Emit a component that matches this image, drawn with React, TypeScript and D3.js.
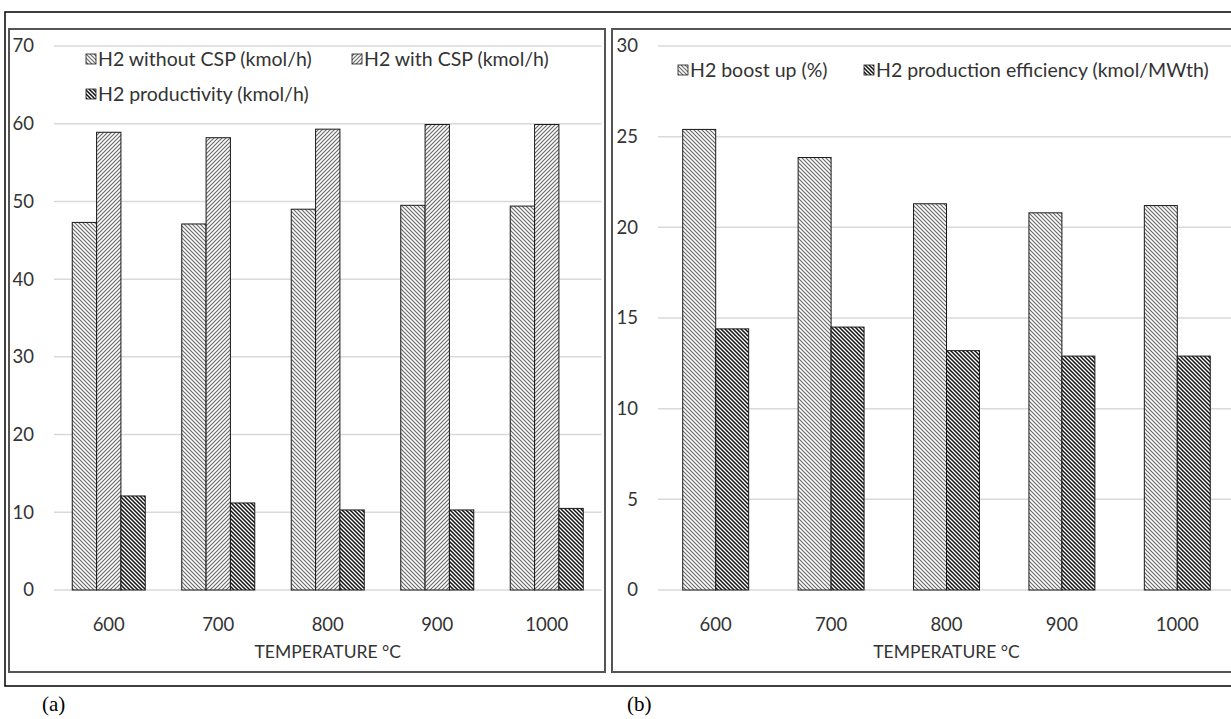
import * as d3 from "d3";

const temps = ["600", "700", "800", "900", "1000"];

// panel (a)
const h2Without = [47.3, 47.1, 49.0, 49.5, 49.4];
const h2With = [58.9, 58.2, 59.3, 59.9, 59.9];
const h2Productivity = [12.1, 11.2, 10.3, 10.3, 10.5];
const ticksA = [0, 10, 20, 30, 40, 50, 60, 70];

// panel (b)
const h2Boost = [25.4, 23.85, 21.3, 20.8, 21.2];
const h2Efficiency = [14.4, 14.5, 13.2, 12.9, 12.9];
const ticksB = [0, 5, 10, 15, 20, 25, 30];

const FONT = "Lato, 'Open Sans', sans-serif";
const TXT = "#333";

type Series = { name: string; values: number[]; fill: string };

function Panel({ x0, x1, yMax, ticks, series, gap, labelRight, legend }: {
  x0: number; x1: number; yMax: number; ticks: number[]; series: Series[];
  gap: number; labelRight: number;
  legend: { x: number; y: number; s: Series }[];
}) {
  const y = d3.scaleLinear().domain([0, yMax]).range([590, 46]);
  const x = d3.scaleBand().domain(temps).range([x0, x1])
    .paddingInner(gap).paddingOuter(gap / 2);
  const inner = d3.scaleBand().domain(series.map(s => s.name)).range([0, x.bandwidth()]);
  const mid = (x0 + x1) / 2;
  return (
    <g>
      {ticks.map(t => (
        <g key={t}>
          <line x1={x0} x2={x1} y1={y(t)} y2={y(t)} stroke="#d9d9d9" strokeWidth={1.5} />
          <text x={labelRight} y={y(t)} dy="0.35em" textAnchor="end" fontSize={18.5} fill={TXT}>{t}</text>
        </g>
      ))}
      {series.map(s => (
        <g key={s.name}>
          {s.values.map((v, i) => (
            <rect key={i} x={x(temps[i])! + inner(s.name)!} y={y(v)} width={inner.bandwidth()}
              height={y(0) - y(v)} fill={s.fill} stroke="#1a1a1a" strokeWidth={1} />
          ))}
        </g>
      ))}
      {temps.map(t => (
        <text key={t} x={x(t)! + x.bandwidth() / 2} y={625} dy="0.35em" textAnchor="middle" fontSize={18.5} fill={TXT}>{t}</text>
      ))}
      <text x={mid} y={652} dy="0.35em" textAnchor="middle" fontSize={17.5} fill={TXT}>TEMPERATURE °C</text>
      {legend.map(l => (
        <g key={l.s.name}>
          <rect x={l.x} y={l.y - 5} width={10} height={10} fill={l.s.fill} stroke="#1a1a1a" strokeWidth={0.8} />
          <text x={l.x + 12} y={l.y} dy="0.35em" fontSize={19.5} fill={TXT}>{l.s.name}</text>
        </g>
      ))}
    </g>
  );
}

export default function App() {
  const sWithout = { name: "H2 without CSP (kmol/h)", values: h2Without, fill: "url(#lightDown)" };
  const sWith = { name: "H2 with CSP (kmol/h)", values: h2With, fill: "url(#lightUp)" };
  const sProd = { name: "H2 productivity (kmol/h)", values: h2Productivity, fill: "url(#darkDown)" };
  const sBoost = { name: "H2 boost up (%)", values: h2Boost, fill: "url(#lightDown)" };
  const sEff = { name: "H2 production efficiency (kmol/MWth)", values: h2Efficiency, fill: "url(#darkDown)" };

  return (
    <svg width={1231} height={719} style={{ position: "absolute", left: 0, top: 0, background: "#fff" }}
      fontFamily={FONT}>
      <defs>
        <pattern id="lightDown" width={4} height={4} patternUnits="userSpaceOnUse">
          <rect width={4} height={4} fill="#fff" />
          <path d="M-1,-1L5,5M-1,3L1,5M3,-1L5,1" stroke="#6a6a6a" strokeWidth={1.2} />
        </pattern>
        <pattern id="lightUp" width={4} height={4} patternUnits="userSpaceOnUse">
          <rect width={4} height={4} fill="#fff" />
          <path d="M-1,5L5,-1M-1,1L1,-1M3,5L5,3" stroke="#6a6a6a" strokeWidth={1.2} />
        </pattern>
        <pattern id="darkDown" width={4} height={4} patternUnits="userSpaceOnUse">
          <rect width={4} height={4} fill="#fff" />
          <path d="M-1,-1L5,5M-1,3L1,5M3,-1L5,1" stroke="#111" strokeWidth={1.5} />
        </pattern>
      </defs>

      <rect x={5} y={12} width={1240} height={674} fill="none" stroke="#000" strokeWidth={1.5} />
      <rect x={9} y={29} width={596} height={643} fill="none" stroke="#555" strokeWidth={2} />
      <rect x={612} y={29} width={640} height={643} fill="none" stroke="#555" strokeWidth={2} />

      <Panel x0={54} x1={601.5} yMax={70} ticks={ticksA} series={[sWithout, sWith, sProd]}
        gap={1 / 3} labelRight={34}
        legend={[{ x: 86, y: 59, s: sWithout }, { x: 352, y: 59, s: sWith }, { x: 86, y: 94, s: sProd }]} />
      <Panel x0={658} x1={1235} yMax={30} ticks={ticksB} series={[sBoost, sEff]}
        gap={1.5 / 3.5} labelRight={638}
        legend={[{ x: 678, y: 70, s: sBoost }, { x: 864, y: 70, s: sEff }]} />

      <text x={42} y={704} dy="0.35em" fontFamily="'Liberation Serif', 'DejaVu Serif', serif" fontSize={21} fill="#000">(a)</text>
      <text x={627} y={704} dy="0.35em" fontFamily="'Liberation Serif', 'DejaVu Serif', serif" fontSize={21} fill="#000">(b)</text>
    </svg>
  );
}
